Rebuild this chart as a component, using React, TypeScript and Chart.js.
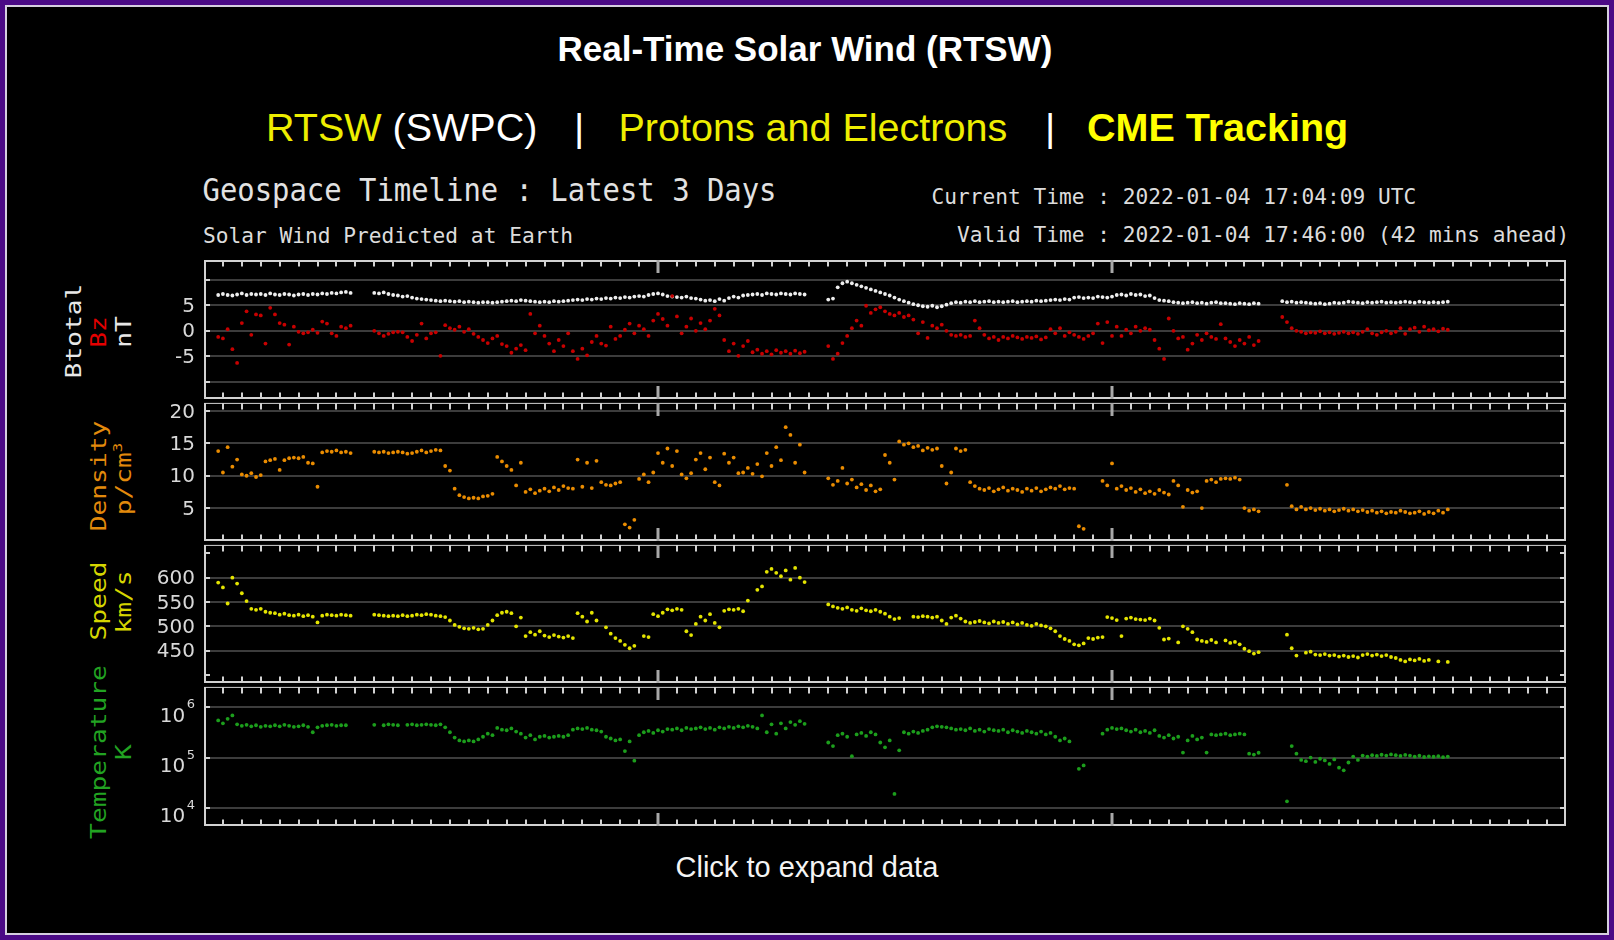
import React, { useEffect, useRef } from 'react';
import { Chart, registerables } from 'chart.js';

Chart.register(...registerables);

const N = null;
// samples every 15 minutes, first sample at hour 0.75 after 2022-01-02 00:00 UTC
const START_HOUR = 0.75;
const STEP_HOURS = 0.25;
const AXIS_MIN_HOUR = 0;
const AXIS_MAX_HOUR = 72;
const DAY_TICK_HOURS = [24, 48];

const btotal: (number | null)[] = [
  7.0,
  7.2, 7.0, 6.9, 7.1, // h1
  7.3, 7.0, 7.2, 7.1, // h2
  7.2, 7.0, 7.3, 7.1, // h3
  7.0, 7.2, 7.1, 6.9, // h4
  7.1, 7.2, 7.0, 7.2, // h5
  7.1, 7.3, 7.2, 7.4, // h6
  7.3, 7.5, 7.6, 7.4, // h7
  N, N, N, N, // h8
  7.4, 7.3, 7.5, 7.2, // h9
  7.0, 6.9, 6.7, 6.8, // h10
  6.5, 6.3, 6.2, 6.1, // h11
  6.0, 5.9, 5.8, 5.9, // h12
  5.8, 5.7, 5.8, 5.6, // h13
  5.7, 5.6, 5.5, 5.6, // h14
  5.6, 5.5, 5.6, 5.7, // h15
  5.8, 5.9, 5.8, 6.0, // h16
  5.9, 5.8, 5.7, 5.6, // h17
  5.7, 5.6, 5.8, 5.7, // h18
  5.8, 5.9, 6.0, 6.1, // h19
  6.0, 6.2, 6.1, 6.3, // h20
  6.2, 6.4, 6.3, 6.5, // h21
  6.4, 6.6, 6.5, 6.7, // h22
  6.8, 6.7, 7.0, 7.2, // h23
  7.3, 7.1, 6.8, 6.7, // h24
  6.6, 6.5, 6.7, 6.4, // h25
  6.3, 6.1, 5.9, 6.0, // h26
  5.8, 6.2, 5.9, 6.4, // h27
  6.7, 6.5, 6.9, 7.0, // h28
  7.1, 7.2, 7.0, 7.3, // h29
  7.2, 7.1, 7.3, 7.2, // h30
  7.1, 7.3, 7.2, 7.1, // h31
  N, N, N, N, // h32
  6.1, 6.3, 8.5, 9.3, // h33
  9.6, 9.3, 9.0, 8.7, // h34
  8.4, 8.1, 7.8, 7.5, // h35
  7.2, 6.9, 6.5, 6.1, // h36
  5.8, 5.5, 5.2, 5.0, // h37
  4.8, 4.7, 4.9, 4.6, // h38
  4.8, 5.1, 5.4, 5.6, // h39
  5.5, 5.7, 5.6, 5.8, // h40
  5.6, 5.7, 5.8, 5.6, // h41
  5.7, 5.6, 5.7, 5.8, // h42
  5.6, 5.7, 5.8, 5.7, // h43
  5.9, 5.8, 5.9, 6.0, // h44
  6.1, 6.0, 6.2, 6.1, // h45
  6.5, 6.6, 6.4, 6.5, // h46
  6.4, 6.7, 6.6, 6.5, // h47
  6.7, 7.0, 7.1, 6.9, // h48
  7.2, 7.0, 7.1, 6.8, // h49
  6.9, 6.4, 6.0, 5.9, // h50
  5.8, 5.6, 5.5, 5.4, // h51
  5.5, 5.6, 5.4, 5.5, // h52
  5.3, 5.5, 5.6, 5.4, // h53
  5.4, 5.3, 5.2, 5.4, // h54
  5.3, 5.2, 5.4, 5.3, // h55
  N, N, N, N, // h56
  5.8, 5.6, 5.7, 5.5, // h57
  5.6, 5.5, 5.4, 5.3, // h58
  5.4, 5.2, 5.3, 5.5, // h59
  5.4, 5.5, 5.7, 5.6, // h60
  5.5, 5.4, 5.6, 5.5, // h61
  5.6, 5.7, 5.5, 5.6, // h62
  5.5, 5.6, 5.7, 5.6, // h63
  5.5, 5.7, 5.6, 5.5, // h64
  5.6, 5.5, 5.6, 5.7, // h65
];

const bz: (number | null)[] = [
  -1.2,
  -1.5, 0.3, -3.6, -6.3, // h1
  1.5, 3.8, -0.8, 3.2, // h2
  3.0, -2.5, 4.5, 3.2, // h3
  1.5, 1.2, -2.7, 0.8, // h4
  -0.2, -0.5, -0.3, 0.2, // h5
  -0.4, 1.8, 1.4, -0.5, // h6
  -1.0, 0.8, 0.5, 1.0, // h7
  N, N, N, N, // h8
  0.0, -0.5, -1.0, -0.6, // h9
  -0.3, -0.2, -0.3, -1.2, // h10
  -2.0, -0.8, 1.4, -1.5, // h11
  -0.5, -0.3, -4.9, 1.1, // h12
  0.5, 0.2, 0.8, -0.2, // h13
  0.3, -0.6, -1.2, -1.8, // h14
  -2.4, -1.5, -1.0, -2.6, // h15
  -3.0, -4.3, -3.5, -2.8, // h16
  -3.8, 3.3, -0.5, 1.0, // h17
  -1.0, -2.5, -4.0, -1.8, // h18
  -3.0, -0.5, -4.0, -5.5, // h19
  -3.5, -4.8, -2.2, -1.0, // h20
  -2.5, -2.9, 0.8, -1.6, // h21
  -1.0, 0.2, 1.4, -0.5, // h22
  1.0, 0.3, -1.0, 2.0, // h23
  3.3, 2.3, 1.0, 6.8, // h24
  2.8, -0.5, 0.8, 2.4, // h25
  0.0, 1.5, 0.3, 2.0, // h26
  4.3, 3.0, -1.8, -4.0, // h27
  -2.5, -4.9, -3.0, -2.0, // h28
  -4.2, -3.7, -4.5, -4.0, // h29
  -4.6, -3.8, -4.3, -4.0, // h30
  -4.5, -3.9, -4.4, -4.1, // h31
  N, N, N, N, // h32
  -3.0, -5.5, -4.5, -2.4, // h33
  -1.0, 0.5, 2.0, 1.0, // h34
  4.9, 3.5, 4.2, 4.6, // h35
  3.8, 3.3, 3.0, 3.5, // h36
  2.7, 3.0, 2.2, -0.5, // h37
  1.7, -1.4, 1.0, 0.5, // h38
  1.2, 0.0, -0.8, -1.0, // h39
  -0.8, -1.2, -1.0, 2.0, // h40
  0.5, -0.8, -1.5, -1.2, // h41
  -1.8, -1.2, -1.5, -1.0, // h42
  -1.3, -1.6, -1.2, -1.4, // h43
  -1.1, -1.7, -1.3, 0.3, // h44
  -0.5, 0.5, -1.0, -0.3, // h45
  -0.8, -1.2, -1.6, -1.0, // h46
  -0.5, 1.4, -2.4, 1.7, // h47
  -1.0, 0.8, -1.0, 0.2, // h48
  -0.5, 0.8, 0.0, 0.5, // h49
  0.2, -1.8, -3.5, -5.5, // h50
  2.4, 0.0, -1.5, -1.2, // h51
  -3.7, -2.5, -0.8, -1.8, // h52
  -0.5, -1.2, -1.6, 1.3, // h53
  -1.5, -2.2, -3.0, -1.8, // h54
  -2.5, -1.2, -2.8, -2.0, // h55
  N, N, N, N, // h56
  2.7, 1.7, 0.5, 0.0, // h57
  -0.2, -0.5, -0.3, -0.4, // h58
  -0.1, -0.5, -0.3, -0.6, // h59
  -0.4, -0.2, -0.5, -0.3, // h60
  -0.6, -0.2, 0.3, -0.5, // h61
  -0.8, -0.3, 0.0, -0.5, // h62
  -0.2, 0.5, -0.6, 0.3, // h63
  0.6, -0.2, 0.8, 0.1, // h64
  0.3, -0.1, 0.4, 0.2, // h65
];

const density: (number | null)[] = [
  13.8,
  10.5, 14.4, 11.4, 12.5, // h1
  10.2, 10.0, 10.4, 9.8, // h2
  10.1, 12.2, 12.4, 12.6, // h3
  10.9, 12.4, 12.7, 12.8, // h4
  12.7, 12.9, 12.0, 11.9, // h5
  8.3, 13.6, 13.8, 13.7, // h6
  13.9, 13.6, 13.7, 13.5, // h7
  N, N, N, N, // h8
  13.7, 13.6, 13.7, 13.5, // h9
  13.6, 13.7, 13.6, 13.4, // h10
  13.5, 13.7, 13.9, 13.6, // h11
  13.8, 14.0, 13.9, 11.5, // h12
  10.8, 8.0, 7.0, 6.7, // h13
  6.5, 6.6, 6.5, 6.8, // h14
  6.9, 7.2, 12.9, 12.2, // h15
  11.5, 10.9, 8.5, 12.0, // h16
  7.5, 7.9, 7.3, 7.7, // h17
  8.0, 7.6, 8.2, 7.8, // h18
  8.4, 8.1, 8.0, 12.5, // h19
  8.3, 12.0, 8.1, 12.3, // h20
  9.0, 8.6, 8.5, 8.8, // h21
  9.0, 2.5, 2.0, 3.2, // h22
  9.5, 10.2, 9.0, 10.5, // h23
  13.5, 12.0, 14.2, 11.5, // h24
  13.8, 10.2, 9.6, 10.4, // h25
  12.5, 13.5, 11.0, 12.8, // h26
  9.0, 8.5, 13.4, 12.0, // h27
  12.8, 10.4, 10.5, 11.2, // h28
  10.3, 11.8, 9.9, 13.5, // h29
  11.5, 14.4, 12.4, 17.5, // h30
  16.3, 12.0, 14.8, 10.5, // h31
  N, N, N, N, // h32
  9.6, 8.6, 9.2, 11.2, // h33
  8.8, 9.4, 8.2, 8.7, // h34
  7.8, 8.5, 7.6, 7.9, // h35
  13.2, 12.0, 9.4, 15.3, // h36
  14.8, 15.0, 14.4, 14.6, // h37
  13.9, 14.3, 14.0, 14.2, // h38
  11.5, 8.8, 10.5, 14.2, // h39
  13.8, 14.0, 9.0, 8.4, // h40
  8.0, 7.8, 8.1, 7.6, // h41
  7.9, 8.2, 7.7, 8.0, // h42
  7.8, 7.5, 8.0, 7.7, // h43
  8.1, 7.6, 7.9, 8.2, // h44
  8.0, 8.4, 7.9, 8.1, // h45
  8.0, 2.2, 1.8, N, // h46
  N, N, 9.2, 8.5, // h47
  11.9, 8.0, 8.4, 7.8, // h48
  8.1, 7.5, 7.9, 7.3, // h49
  7.6, 7.2, 7.8, 7.4, // h50
  7.1, 9.2, 8.5, 5.2, // h51
  7.8, 7.4, 7.6, 5.0, // h52
  9.2, 9.4, 9.0, 9.5, // h53
  9.6, 9.5, 9.7, 9.4, // h54
  5.0, 4.6, 4.8, 4.5, // h55
  N, N, N, N, // h56
  N, 8.6, 5.3, 4.8, // h57
  5.2, 4.8, 5.0, 4.7, // h58
  4.9, 4.6, 4.8, 4.5, // h59
  4.7, 4.9, 4.6, 4.8, // h60
  4.5, 4.7, 4.4, 4.6, // h61
  4.3, 4.5, 4.2, 4.4, // h62
  4.3, 4.6, 4.4, 4.2, // h63
  4.3, 4.5, 4.1, 4.4, // h64
  4.2, 4.6, 4.3, 4.8, // h65
];

const speed: (number | null)[] = [
  590,
  580, 547, 600, 588, // h1
  568, 552, 536, 534, // h2
  536, 530, 528, 527, // h3
  524, 526, 523, 522, // h4
  524, 521, 523, 520, // h5
  508, 522, 524, 523, // h6
  522, 524, 523, 522, // h7
  N, N, N, N, // h8
  524, 523, 522, 521, // h9
  522, 521, 523, 521, // h10
  522, 524, 523, 525, // h11
  524, 522, 521, 519, // h12
  512, 503, 499, 496, // h13
  495, 497, 494, 495, // h14
  503, 512, 523, 528, // h15
  530, 527, 500, 518, // h16
  480, 488, 483, 490, // h17
  481, 478, 482, 479, // h18
  477, 480, 476, 527, // h19
  520, 510, 528, 512, // h20
  N, 498, 485, 476, // h21
  470, 462, 455, 460, // h22
  N, 480, 478, 525, // h23
  521, 528, 535, 533, // h24
  536, 534, 490, 482, // h25
  505, 520, 512, 525, // h26
  507, 498, 532, 535, // h27
  534, 536, 531, 553, // h28
  N, 575, 582, 612, // h29
  618, 610, 603, 615, // h30
  596, 620, 600, 591, // h31
  N, N, N, N, // h32
  545, 541, 538, 536, // h33
  539, 534, 532, 537, // h34
  533, 531, 534, 530, // h35
  526, 520, 515, 517, // h36
  N, N, 520, 519, // h37
  521, 520, 518, 520, // h38
  512, 505, 518, 522, // h39
  516, 510, 507, 509, // h40
  511, 508, 506, 510, // h41
  507, 509, 505, 508, // h42
  504, 507, 503, 501, // h43
  505, 502, 500, 496, // h44
  490, 480, 474, 470, // h45
  463, 461, 465, 476, // h46
  474, 477, 478, 519, // h47
  517, 513, 480, 516, // h48
  518, 515, 514, 513, // h49
  516, 512, 497, 473, // h50
  475, N, 467, 500, // h51
  495, 488, 473, 470, // h52
  468, 472, 467, N, // h53
  471, 466, 468, 463, // h54
  454, 449, 444, 447, // h55
  N, N, N, N, // h56
  N, 483, 455, 440, // h57
  N, 446, 448, 442, // h58
  441, 443, 440, 441, // h59
  438, 440, 437, 439, // h60
  436, 441, 443, 440, // h61
  442, 439, 441, 437, // h62
  435, 431, 428, 432, // h63
  430, 433, 429, 431, // h64
  N, 428, N, 427, // h65
];

const temperature: (number | null)[] = [
  5.5e5,
  4.8e5, 5.9e5, 6.9e5, 4.6e5, // h1
  4.3e5, 4.5e5, 4.2e5, 4.4e5, // h2
  4.1e5, 4.3e5, 4.2e5, 4.4e5, // h3
  4.2e5, 4.5e5, 4.3e5, 4.1e5, // h4
  4.2e5, 4.4e5, 4.1e5, 3.2e5, // h5
  4.0e5, 4.3e5, 4.4e5, 4.5e5, // h6
  4.3e5, 4.4e5, 4.4e5, N, // h7
  N, N, N, N, // h8
  4.5e5, N, 4.4e5, 4.6e5, // h9
  4.5e5, 4.4e5, N, 4.5e5, // h10
  4.6e5, 4.4e5, 4.5e5, 4.6e5, // h11
  4.5e5, 4.4e5, 4.6e5, 4.0e5, // h12
  3.2e5, 2.5e5, 2.2e5, 2.1e5, // h13
  2.2e5, 2.1e5, 2.3e5, 2.6e5, // h14
  3.0e5, 2.8e5, 3.9e5, 3.6e5, // h15
  3.5e5, 3.8e5, 3.3e5, 3.0e5, // h16
  2.5e5, 2.8e5, 2.3e5, 2.6e5, // h17
  2.7e5, 2.5e5, 2.6e5, 2.7e5, // h18
  2.6e5, 2.8e5, 3.6e5, 3.8e5, // h19
  3.7e5, 3.9e5, 3.6e5, 3.5e5, // h20
  3.3e5, 2.6e5, 2.4e5, 2.2e5, // h21
  2.3e5, 1.35e5, 2.1e5, 8.7e4, // h22
  2.8e5, 3.2e5, 3.4e5, 3.1e5, // h23
  3.5e5, 3.3e5, 3.7e5, 3.6e5, // h24
  3.8e5, 3.5e5, 3.9e5, 3.7e5, // h25
  3.8e5, 4.0e5, 3.7e5, 3.9e5, // h26
  3.6e5, 4.0e5, 3.8e5, 4.1e5, // h27
  3.9e5, 4.2e5, 4.0e5, 4.3e5, // h28
  4.1e5, 3.8e5, 6.9e5, 3.2e5, // h29
  4.6e5, 3.0e5, 4.8e5, 3.8e5, // h30
  5.1e5, 4.5e5, 5.3e5, 4.7e5, // h31
  N, N, N, N, // h32
  2.0e5, 1.7e5, 2.8e5, 3.0e5, // h33
  2.6e5, 1.07e5, 2.9e5, 3.1e5, // h34
  2.7e5, 3.2e5, 2.9e5, 2.0e5, // h35
  1.6e5, 2.2e5, 1.9e4, 1.4e5, // h36
  3.2e5, 3.0e5, 3.3e5, 3.1e5, // h37
  3.4e5, 3.6e5, 4.0e5, 4.2e5, // h38
  4.1e5, 4.0e5, 3.8e5, 3.6e5, // h39
  3.7e5, 3.5e5, 3.8e5, 3.4e5, // h40
  3.6e5, 3.3e5, 3.7e5, 3.5e5, // h41
  3.4e5, 3.6e5, 3.2e5, 3.5e5, // h42
  3.3e5, 3.1e5, 3.4e5, 3.2e5, // h43
  3.0e5, 3.3e5, 2.9e5, 3.1e5, // h44
  2.6e5, 2.2e5, 2.4e5, 2.1e5, // h45
  N, 6.0e4, 7.0e4, N, // h46
  N, N, 3.0e5, 3.6e5, // h47
  3.9e5, 3.7e5, 3.8e5, 3.5e5, // h48
  3.3e5, 3.6e5, 3.2e5, 3.4e5, // h49
  3.1e5, 3.5e5, 2.7e5, 2.5e5, // h50
  2.8e5, 2.4e5, 2.6e5, 1.26e5, // h51
  2.2e5, 2.7e5, 2.3e5, 2.5e5, // h52
  1.26e5, 2.9e5, 2.8e5, 2.9e5, // h53
  3.0e5, 2.8e5, 2.9e5, 3.0e5, // h54
  2.9e5, 1.2e5, 1.15e5, 1.25e5, // h55
  N, N, N, N, // h56
  N, 1.35e4, 1.7e5, 1.2e5, // h57
  9.0e4, 8.5e4, 1.0e5, 8.2e4, // h58
  9.5e4, 8.8e4, 7.5e4, 9.2e4, // h59
  6.3e4, 5.6e4, 8.0e4, 1.05e5, // h60
  9.0e4, 1.1e5, 1.05e5, 1.12e5, // h61
  1.08e5, 1.14e5, 1.1e5, 1.16e5, // h62
  1.12e5, 1.08e5, 1.13e5, 1.1e5, // h63
  1.05e5, 1.09e5, 1.03e5, 1.06e5, // h64
  1.04e5, 1.07e5, 1.02e5, 1.05e5, // h65
];

// tick values / labels
const bTickValues = [-10, -5, 0, 5, 10];
const bTickLabels = ['', '-5', '0', '5', ''];
const bGridValues = [-10, -5, 0, 5, 10];
const densityTickValues = [5, 10, 15, 20];
const densityTickLabels = ['5', '10', '15', '20'];
const densityGridValues = [5, 10, 15, 20];
const speedTickValues = [400, 450, 500, 550, 600, 650];
const speedTickLabels = ['', '450', '500', '550', '600', ''];
const speedGridValues = [450, 500, 550, 600];
const tempTickValues = [1e4, 1e5, 1e6];
const tempTickExponents = ['4', '5', '6'];
const tempGridValues = [1e4, 1e5, 1e6];

const COLORS = {
  frame: '#d2d2d2',
  grid: '#3c3c3c',
  tick: '#d2d2d2',
  major: '#a8a8a8',
  label: '#d8d8d8',
  btotal: '#eeeeee',
  bz: '#c80000',
  density: '#ea8c00',
  speed: '#e4e400',
  temperature: '#1c9e1c',
};

const SANS = '"Liberation Sans", Arial, sans-serif';
const MONO = '"DejaVu Sans Mono", monospace';

function toPoints(values: (number | null)[]) {
  const pts: { x: number; y: number }[] = [];
  values.forEach((v, i) => {
    if (v !== null) pts.push({ x: START_HOUR + i * STEP_HOURS, y: v });
  });
  return pts;
}

type PanelSpec = {
  top: number;
  height: number;
  first: boolean;
  type: 'linear' | 'logarithmic';
  min: number;
  max: number;
  gridValues: number[];
  tickValues: number[];
  tickLabels?: string[];
  exponents?: string[];
  datasets: { values: (number | null)[]; color: string }[];
};

const PANELS: PanelSpec[] = [
  {
    top: 258, height: 143, first: true, type: 'linear', min: -13.37, max: 13.87,
    gridValues: bGridValues, tickValues: bTickValues, tickLabels: bTickLabels,
    datasets: [{ values: bz, color: COLORS.bz }, { values: btotal, color: COLORS.btotal }],
  },
  {
    top: 401, height: 142, first: false, type: 'linear', min: -0.09, max: 21.24,
    gridValues: densityGridValues, tickValues: densityTickValues, tickLabels: densityTickLabels,
    datasets: [{ values: density, color: COLORS.density }],
  },
  {
    top: 543, height: 142, first: false, type: 'linear', min: 383.4, max: 667.4,
    gridValues: speedGridValues, tickValues: speedTickValues, tickLabels: speedTickLabels,
    datasets: [{ values: speed, color: COLORS.speed }],
  },
  {
    top: 685, height: 143, first: false, type: 'logarithmic', min: 4345, max: 2.551e6,
    gridValues: tempGridValues, tickValues: tempTickValues, exponents: tempTickExponents,
    datasets: [{ values: temperature, color: COLORS.temperature }],
  },
];

function makeFramePlugin(spec: PanelSpec) {
  return {
    id: 'rtswFrame',
    beforeDatasetsDraw(chart: any) {
      const { ctx, chartArea: a } = chart;
      const ys = chart.scales.y;
      ctx.save();
      ctx.strokeStyle = COLORS.grid;
      ctx.lineWidth = 2;
      for (const v of spec.gridValues) {
        const py = Math.round(ys.getPixelForValue(v));
        ctx.beginPath();
        ctx.moveTo(a.left, py);
        ctx.lineTo(a.right, py);
        ctx.stroke();
      }
      ctx.restore();
    },
    afterDraw(chart: any) {
      const { ctx, chartArea: a } = chart;
      const xs = chart.scales.x;
      const ys = chart.scales.y;
      ctx.save();
      // frame
      ctx.strokeStyle = COLORS.frame;
      ctx.lineWidth = 2;
      ctx.beginPath();
      ctx.moveTo(a.left + 1, a.top);
      ctx.lineTo(a.left + 1, a.bottom);
      ctx.moveTo(a.right - 1, a.top);
      ctx.lineTo(a.right - 1, a.bottom);
      ctx.moveTo(a.left, a.bottom - 1);
      ctx.lineTo(a.right, a.bottom - 1);
      ctx.stroke();
      ctx.lineWidth = spec.first ? 2 : 1;
      ctx.beginPath();
      const ty = a.top + (spec.first ? 1 : 0.5);
      ctx.moveTo(a.left, ty);
      ctx.lineTo(a.right, ty);
      ctx.stroke();

      // y ticks on both borders
      ctx.lineWidth = 2;
      ctx.strokeStyle = COLORS.tick;
      for (const v of spec.tickValues) {
        const py = Math.round(ys.getPixelForValue(v));
        ctx.beginPath();
        ctx.moveTo(a.left, py);
        ctx.lineTo(a.left + 6, py);
        ctx.moveTo(a.right - 6, py);
        ctx.lineTo(a.right, py);
        ctx.stroke();
      }

      // x ticks (hourly, long at day boundaries)
      for (let h = AXIS_MIN_HOUR + 1; h < AXIS_MAX_HOUR; h++) {
        const px = Math.round(xs.getPixelForValue(h));
        const major = DAY_TICK_HOURS.includes(h);
        const len = major ? 13 : 6.5;
        ctx.strokeStyle = major ? COLORS.major : COLORS.tick;
        ctx.lineWidth = major ? 3 : 2;
        ctx.beginPath();
        ctx.moveTo(px, a.top);
        ctx.lineTo(px, a.top + len);
        ctx.moveTo(px, a.bottom);
        ctx.lineTo(px, a.bottom - len);
        ctx.stroke();
      }

      // labels
      ctx.fillStyle = COLORS.label;
      ctx.textAlign = 'right';
      if (spec.tickLabels) {
        ctx.font = '20px "DejaVu Sans"';
        ctx.textBaseline = 'middle';
        spec.tickValues.forEach((v, i) => {
          const lab = spec.tickLabels![i];
          if (lab) ctx.fillText(lab, a.left - 9, ys.getPixelForValue(v) + 1.5);
        });
      }
      if (spec.exponents) {
        ctx.textBaseline = 'alphabetic';
        spec.tickValues.forEach((v, i) => {
          const py = ys.getPixelForValue(v);
          const ex = spec.exponents![i];
          ctx.font = '13px "DejaVu Sans"';
          const ew = ctx.measureText(ex).width;
          ctx.fillText(ex, a.left - 9, py + 1);
          ctx.font = '20px "DejaVu Sans"';
          ctx.fillText('10', a.left - 9 - ew - 1.5, py + 14.5);
        });
      }
      ctx.restore();
    },
  };
}

function PanelChart({ spec }: { spec: PanelSpec }) {
  const ref = useRef<HTMLCanvasElement | null>(null);
  useEffect(() => {
    if (!ref.current) return;
    const chart = new Chart(ref.current, {
      type: 'scatter',
      data: {
        datasets: spec.datasets.map((d) => ({
          data: toPoints(d.values),
          backgroundColor: d.color,
          borderColor: d.color,
          borderWidth: 0,
          pointRadius: 1.9,
          pointHoverRadius: 0,
          pointStyle: 'circle',
        })),
      },
      options: {
        responsive: false,
        animation: false,
        devicePixelRatio: 1,
        events: [],
        layout: { padding: { left: 204, right: 48, top: 0, bottom: 0 } },
        plugins: {
          legend: { display: false },
          tooltip: { enabled: false },
          title: { display: false },
        },
        scales: {
          x: { type: 'linear', min: AXIS_MIN_HOUR, max: AXIS_MAX_HOUR, display: false },
          y: { type: spec.type, min: spec.min, max: spec.max, display: false },
        },
      } as any,
      plugins: [makeFramePlugin(spec) as any],
    });
    return () => chart.destroy();
  }, [spec]);
  return (
    <canvas
      ref={ref}
      width={1614}
      height={spec.height}
      style={{ position: 'absolute', left: 0, top: spec.top, width: 1614, height: spec.height, display: 'block' }}
    />
  );
}

function HText(props: {
  x: number; baseline: number; size: number; family: string; weight?: number;
  color: string; scaleY?: number; children: React.ReactNode;
}) {
  const { x, baseline, size, family, weight, color, scaleY, children } = props;
  const off = 0.846 * size;
  return (
    <div
      style={{
        position: 'absolute', left: x, top: baseline - off, fontSize: size, lineHeight: `${size}px`,
        fontFamily: family, fontWeight: weight ?? 400, color, whiteSpace: 'pre',
        transform: scaleY ? `scaleY(${scaleY})` : undefined, transformOrigin: `0 ${off}px`,
      }}
    >
      {children}
    </div>
  );
}

const VSIZE = 21;
const VSCALE = 1.25;
function VText(props: { baselineX: number; cy: number; color: string; children: React.ReactNode }) {
  const cx = props.baselineX - 0.346 * VSIZE;
  return (
    <div style={{ position: 'absolute', left: cx, top: props.cy, width: 0, height: 0 }}>
      <div
        style={{
          position: 'absolute', left: 0, top: 0, whiteSpace: 'pre', fontFamily: MONO,
          fontSize: VSIZE, lineHeight: `${VSIZE}px`, color: props.color,
          transform: `translate(-50%, -50%) rotate(-90deg) scaleX(${VSCALE})`, transformOrigin: '50% 50%',
        }}
      >
        {props.children}
      </div>
    </div>
  );
}

export default function App() {
  useEffect(() => {
    document.body.style.margin = '0';
    document.body.style.overflow = 'hidden';
  }, []);
  const col1 = 81.7, col2 = 106.5, col3 = 131.5;
  return (
    <div style={{ position: 'absolute', left: 0, top: 0, width: 1614, height: 940, background: '#4b0a86', overflow: 'hidden' }}>
      <div style={{ position: 'absolute', left: 5, top: 5, width: 1600, height: 926, border: '2px solid #d6cfe0', background: '#000' }} />

      <HText x={557.5} baseline={61} size={35} family={SANS} weight={700} color="#ffffff">Real-Time Solar Wind (RTSW)</HText>

      <HText x={266} baseline={141.7} size={39.5} family={SANS} color="#eeee00">
        RTSW<span style={{ color: '#ffffff' }}> (SWPC)</span>
      </HText>
      <HText x={574} baseline={141.7} size={39.5} family={SANS} color="#ffffff">|</HText>
      <HText x={618.5} baseline={141.7} size={39.5} family={SANS} color="#eeee00">Protons and Electrons</HText>
      <HText x={1045} baseline={141.7} size={39.5} family={SANS} color="#ffffff">|</HText>
      <HText x={1087} baseline={141.7} size={39.5} family={SANS} weight={700} color="#ffff00">CME Tracking</HText>

      <HText x={202.5} baseline={201.5} size={28.9} family={MONO} color="#e2e2e2" scaleY={1.08}>Geospace Timeline : Latest 3 Days</HText>
      <HText x={203} baseline={243} size={21.2} family={MONO} color="#dcdcdc">Solar Wind Predicted at Earth</HText>
      <HText x={931.5} baseline={203.5} size={21.2} family={MONO} color="#dcdcdc">Current Time : 2022-01-04 17:04:09 UTC</HText>
      <HText x={957} baseline={241.5} size={21.2} family={MONO} color="#dcdcdc">Valid Time : 2022-01-04 17:46:00 (42 mins ahead)</HText>

      <VText baselineX={col1} cy={330.8} color="#e8e8e8">Btotal</VText>
      <VText baselineX={col2} cy={331.7} color="#e60000">Bz</VText>
      <VText baselineX={col3} cy={332} color="#e8e8e8">nT</VText>
      <VText baselineX={col2} cy={475.8} color="#e38a0c">Density</VText>
      <VText baselineX={col3} cy={479} color="#e38a0c">
        p/cm<span style={{ fontSize: '0.6em', position: 'relative', top: '-0.7em', lineHeight: 0 }}>3</span>
      </VText>
      <VText baselineX={col2} cy={600.8} color="#d6d600">Speed</VText>
      <VText baselineX={col3} cy={601.7} color="#d6d600">km/s</VText>
      <VText baselineX={col2} cy={751.7} color="#22a322">Temperature</VText>
      <VText baselineX={col3} cy={751.7} color="#22a322">K</VText>

      {PANELS.map((p, i) => (
        <PanelChart key={i} spec={p} />
      ))}

      <HText x={675.5} baseline={877.5} size={29} family={SANS} color="#f4f4f4">Click to expand data</HText>
    </div>
  );
}
